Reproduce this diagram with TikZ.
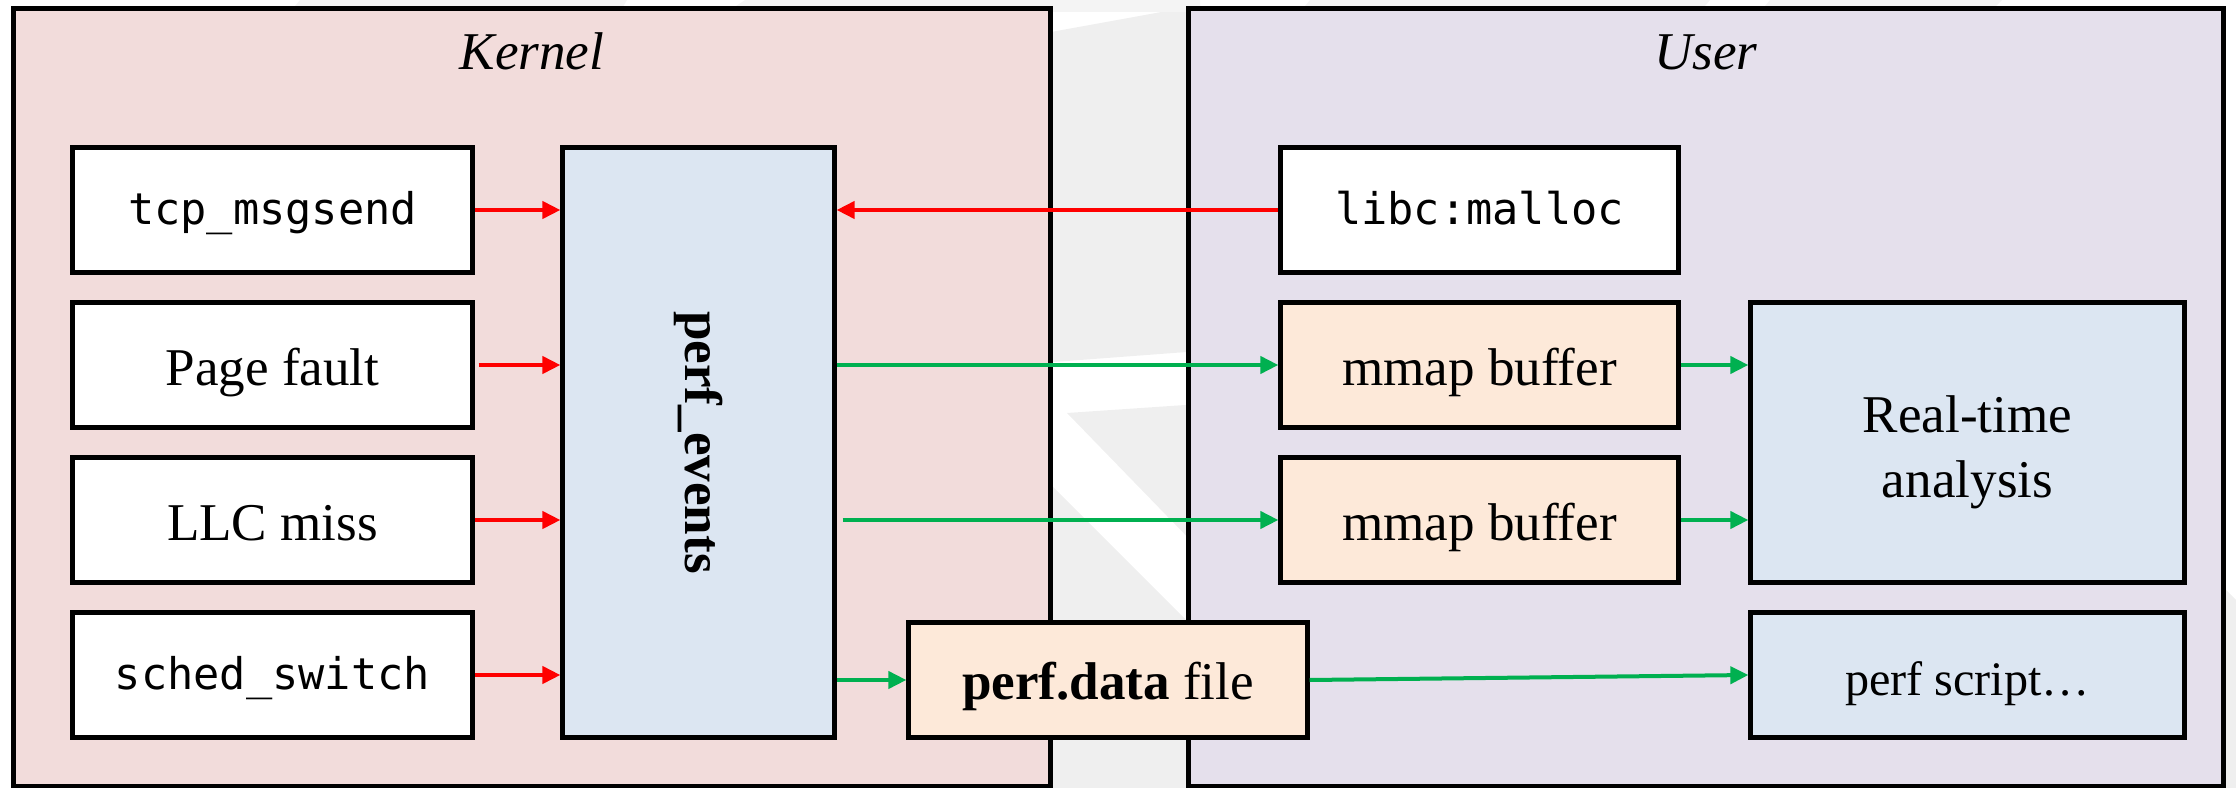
\documentclass[tikz,border=0pt]{standalone}
\usepackage{fontspec}
\setmainfont{Liberation Serif}
\newfontfamily\codefont{DejaVu Sans Mono}
\usetikzlibrary{arrows.meta}

\definecolor{kernelfill}{RGB}{242,220,219}
\definecolor{userfill}{RGB}{229,224,236}
\definecolor{corefill}{RGB}{220,230,242}
\definecolor{bufffill}{RGB}{253,233,217}
\definecolor{evred}{RGB}{255,0,0}
\definecolor{evgreen}{RGB}{0,176,80}
\definecolor{markgray}{RGB}{239,239,239}

\begin{document}
\begin{tikzpicture}[x=0.01cm, y=-0.01cm,
  region/.style={draw=black, line width=0.05cm, inner sep=0pt},
  box/.style={draw=black, line width=0.05cm, inner sep=0pt, align=center,
    text height=0.41cm, text depth=0pt,
    font=\fontsize{15.1}{18.5}\selectfont},
  codebox/.style={box, fill=white, text height=0.29cm,
    font=\codefont\fontsize{12.4}{15}\selectfont},
  textbox/.style={box, fill=white},
  buffbox/.style={box, fill=bufffill},
  toolbox/.style={box, fill=corefill},
  title/.style={anchor=base, font=\itshape\fontsize{15.1}{18}\selectfont},
  evarrow/.style={line width=0.04cm, -{Triangle[length=0.18cm, width=0.17cm]}},
  inflow/.style={evarrow, draw=evred, evred},
  outflow/.style={evarrow, draw=evgreen, evgreen}
]
\useasboundingbox (0,0) rectangle (2236,788);

% faint background watermark
\fill[markgray] (1040,34) -- (1200,5) -- (1200,351) -- (1040,363) -- cycle;
\fill[markgray] (1067,413) -- (1200,404) -- (1200,550) -- cycle;
\fill[markgray] (1040,474) -- (1200,634) -- (1200,788) -- (1040,788) -- cycle;
\fill[markgray!70!white] (300,0) -- (627,0) -- (620,12) -- (290,12) -- cycle;
\fill[markgray!70!white] (727,12) -- (745,0) -- (1200,0) -- (1200,12) -- cycle;
\fill[markgray!70!white] (1310,0) -- (1710,0) -- (1700,12) -- (1300,12) -- cycle;
\fill[markgray!70!white] (1770,0) -- (2002,0) -- (1990,12) -- (1760,12) -- cycle;
\fill[markgray] (2226,590) -- (2236,600) -- (2236,788) -- (2226,788) -- cycle;

% the two address spaces
\node[region, fill=kernelfill, minimum width=10.36cm, minimum height=7.77cm] (kernel) at (532,397.5) {};
\node[region, fill=userfill, minimum width=10.34cm, minimum height=7.77cm] (user) at (1706,397.5) {};
\node[title] (kernellabel) at (532,70) {Kernel};
\node[title] (userlabel) at (1706,70) {User};

% event sources
\node[codebox, minimum width=3.99cm, minimum height=1.24cm] (tcp) at (272.5,210) {tcp\_msgsend};
\node[textbox, minimum width=3.99cm, minimum height=1.24cm] (pf) at (272.5,365) {Page fault};
\node[textbox, minimum width=3.99cm, minimum height=1.24cm] (llc) at (272.5,520) {LLC miss};
\node[codebox, minimum width=3.99cm, minimum height=1.24cm] (sched) at (272.5,675) {sched\_switch};

% perf_events subsystem
\node[toolbox, minimum width=2.71cm, minimum height=5.89cm] (pe) at (698.5,442.5) {};
\node[rotate=-90, font=\bfseries\fontsize{15.1}{18}\selectfont] (pelabel) at (pe.center) {perf\_events};

% user side
\node[codebox, minimum width=3.97cm, minimum height=1.24cm] (libc) at (1479.5,210) {libc:malloc};
\node[buffbox, minimum width=3.97cm, minimum height=1.24cm] (mmapa) at (1479.5,365) {mmap buffer};
\node[buffbox, minimum width=3.97cm, minimum height=1.24cm] (mmapb) at (1479.5,520) {mmap buffer};
\node[toolbox, minimum width=4.33cm, minimum height=2.79cm] (ana) at (1967.5,442.5) {};
\node[align=center, font=\fontsize{15.1}{18.5}\selectfont] (analabel)
      at ([yshift=-0.1cm]ana.center) {Real-time\\analysis};
\node[toolbox, minimum width=4.33cm, minimum height=1.24cm, text height=0.40cm,
      font=\fontsize{13.7}{16}\selectfont] (pscript) at (1967.5,675) {perf script…};
\node[buffbox, minimum width=3.98cm, minimum height=1.14cm, text height=0.39cm] (pdata) at (1108,680) {\textbf{perf.data} file};

% events flowing into perf_events
\draw[inflow] (tcp.east) -- (tcp.east -| pe.west);
\draw[inflow] ([xshift=0.04cm]pf.east) -- (pf.east -| pe.west);
\draw[inflow] (llc.east) -- (llc.east -| pe.west);
\draw[inflow] (sched.east) -- (sched.east -| pe.west);
\draw[inflow] (libc.west) -- (libc.west -| pe.east);

% records flowing out
\draw[outflow] (mmapa.west -| pe.east) -- (mmapa.west);
\draw[outflow] ([xshift=0.06cm]mmapb.west -| pe.east) -- (mmapb.west);
\draw[outflow] (pdata.west -| pe.east) -- (pdata.west);
\draw[outflow] (mmapa.east) -- (mmapa.east -| ana.west);
\draw[outflow] (mmapb.east) -- (mmapb.east -| ana.west);
\draw[outflow] (pdata.east) -- (pscript.west);
\end{tikzpicture}
\end{document}
